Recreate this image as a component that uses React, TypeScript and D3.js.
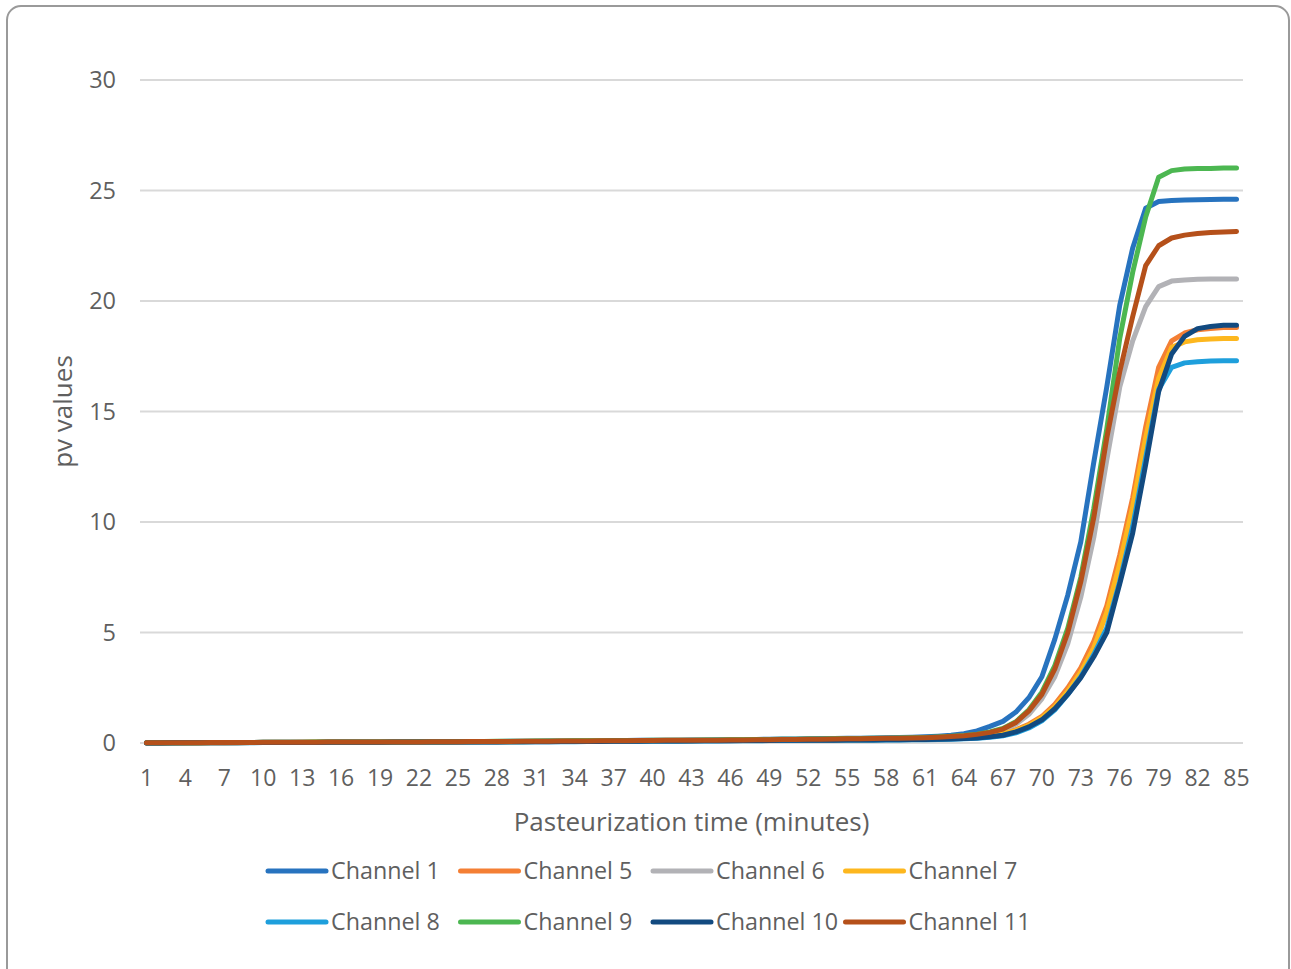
import * as d3 from "d3";
import { FC } from "react";

const WIDTH = 1291;
const HEIGHT = 969;
const MARGIN = { top: 80, right: 48, bottom: 226, left: 140 };

const minutes = d3.range(1, 86);
const yTicks = [0, 5, 10, 15, 20, 25, 30];
const xTickLabels = d3.range(1, 86, 3);

const ch1 = [
  0.01, 0.01, 0.01, 0.01, 0.02, 0.02, 0.02, 0.02, 0.02, 0.03,
  0.03, 0.03, 0.03, 0.03, 0.04, 0.04, 0.04, 0.04, 0.05, 0.05,
  0.05, 0.05, 0.06, 0.06, 0.06, 0.07, 0.07, 0.07, 0.08, 0.08,
  0.08, 0.09, 0.09, 0.1, 0.1, 0.1, 0.11, 0.11, 0.12, 0.12,
  0.13, 0.13, 0.14, 0.14, 0.15, 0.15, 0.16, 0.16, 0.17, 0.18,
  0.18, 0.19, 0.2, 0.2, 0.21, 0.22, 0.23, 0.24, 0.25, 0.26,
  0.28, 0.31, 0.35, 0.42, 0.55, 0.75, 0.98, 1.4, 2.05, 3.0,
  4.7, 6.7, 9.1, 12.7, 16.1, 19.8, 22.4, 24.2, 24.5, 24.55,
  24.57, 24.58, 24.59, 24.6, 24.6,
];
const ch5 = [
  0.0, 0.0, 0.01, 0.01, 0.01, 0.01, 0.01, 0.02, 0.02, 0.02,
  0.02, 0.02, 0.03, 0.03, 0.03, 0.03, 0.03, 0.04, 0.04, 0.04,
  0.04, 0.05, 0.05, 0.05, 0.05, 0.06, 0.06, 0.06, 0.06, 0.07,
  0.07, 0.07, 0.08, 0.08, 0.08, 0.08, 0.09, 0.09, 0.09, 0.1,
  0.1, 0.1, 0.11, 0.11, 0.11, 0.12, 0.12, 0.12, 0.13, 0.13,
  0.13, 0.14, 0.14, 0.15, 0.15, 0.15, 0.16, 0.16, 0.17, 0.17,
  0.18, 0.19, 0.21, 0.24, 0.28, 0.34, 0.44, 0.6, 0.85, 1.2,
  1.75, 2.5, 3.4, 4.6, 6.2, 8.5, 11.1, 14.3, 17.0, 18.2,
  18.55, 18.7, 18.75, 18.8, 18.8,
];
const ch6 = [
  0.01, 0.01, 0.01, 0.01, 0.01, 0.02, 0.02, 0.02, 0.02, 0.02,
  0.03, 0.03, 0.03, 0.03, 0.03, 0.04, 0.04, 0.04, 0.04, 0.05,
  0.05, 0.05, 0.05, 0.06, 0.06, 0.06, 0.07, 0.07, 0.07, 0.07,
  0.08, 0.08, 0.08, 0.09, 0.09, 0.09, 0.1, 0.1, 0.1, 0.11,
  0.11, 0.12, 0.12, 0.12, 0.13, 0.13, 0.14, 0.14, 0.15, 0.15,
  0.16, 0.16, 0.17, 0.17, 0.18, 0.19, 0.19, 0.2, 0.21, 0.22,
  0.23, 0.25, 0.28, 0.32, 0.37, 0.45, 0.58, 0.85, 1.3, 2.0,
  3.0, 4.5, 6.6, 9.3, 12.8, 16.1, 18.2, 19.75, 20.65, 20.9,
  20.95, 20.98, 21.0, 21.0, 21.0,
];
const ch7 = [
  0.0, 0.0, 0.01, 0.01, 0.01, 0.01, 0.01, 0.01, 0.02, 0.02,
  0.02, 0.02, 0.02, 0.03, 0.03, 0.03, 0.03, 0.03, 0.04, 0.04,
  0.04, 0.04, 0.05, 0.05, 0.05, 0.05, 0.06, 0.06, 0.06, 0.06,
  0.07, 0.07, 0.07, 0.07, 0.08, 0.08, 0.08, 0.09, 0.09, 0.09,
  0.1, 0.1, 0.1, 0.11, 0.11, 0.11, 0.12, 0.12, 0.12, 0.13,
  0.13, 0.13, 0.14, 0.14, 0.15, 0.15, 0.15, 0.16, 0.16, 0.17,
  0.17, 0.18, 0.2, 0.23, 0.27, 0.32, 0.42, 0.57, 0.8, 1.15,
  1.65, 2.35, 3.2, 4.3, 5.9, 8.1, 10.7, 13.8, 16.5, 17.9,
  18.15, 18.25, 18.28, 18.3, 18.3,
];
const ch8 = [
  0.0, 0.0, 0.0, 0.01, 0.01, 0.01, 0.01, 0.01, 0.01, 0.02,
  0.02, 0.02, 0.02, 0.02, 0.02, 0.03, 0.03, 0.03, 0.03, 0.03,
  0.04, 0.04, 0.04, 0.04, 0.04, 0.05, 0.05, 0.05, 0.05, 0.05,
  0.06, 0.06, 0.06, 0.06, 0.07, 0.07, 0.07, 0.07, 0.08, 0.08,
  0.08, 0.08, 0.09, 0.09, 0.09, 0.1, 0.1, 0.1, 0.11, 0.11,
  0.11, 0.12, 0.12, 0.12, 0.13, 0.13, 0.13, 0.14, 0.14, 0.15,
  0.15, 0.16, 0.17, 0.19, 0.22, 0.26, 0.33, 0.46, 0.68, 1.0,
  1.5, 2.2, 3.0, 4.0, 5.2, 7.3, 9.8, 12.9, 16.0, 17.0,
  17.2, 17.25, 17.28, 17.3, 17.3,
];
const ch9 = [
  0.01, 0.01, 0.01, 0.01, 0.01, 0.02, 0.02, 0.02, 0.02, 0.03,
  0.03, 0.03, 0.03, 0.04, 0.04, 0.04, 0.04, 0.05, 0.05, 0.05,
  0.05, 0.06, 0.06, 0.06, 0.07, 0.07, 0.07, 0.08, 0.08, 0.08,
  0.09, 0.09, 0.09, 0.1, 0.1, 0.1, 0.11, 0.11, 0.11, 0.12,
  0.12, 0.13, 0.13, 0.14, 0.14, 0.15, 0.15, 0.16, 0.16, 0.17,
  0.17, 0.18, 0.18, 0.19, 0.2, 0.2, 0.21, 0.22, 0.23, 0.24,
  0.25, 0.27, 0.3, 0.34, 0.4, 0.5, 0.66, 0.96, 1.5, 2.3,
  3.5, 5.2, 7.5, 10.6, 14.2, 18.3, 21.3, 23.8, 25.6, 25.9,
  25.97, 26.0, 26.0, 26.02, 26.02,
];
const ch10 = [
  0.0, 0.0, 0.01, 0.01, 0.01, 0.01, 0.01, 0.01, 0.02, 0.02,
  0.02, 0.02, 0.02, 0.02, 0.03, 0.03, 0.03, 0.03, 0.03, 0.04,
  0.04, 0.04, 0.04, 0.05, 0.05, 0.05, 0.05, 0.05, 0.06, 0.06,
  0.06, 0.06, 0.07, 0.07, 0.07, 0.07, 0.08, 0.08, 0.08, 0.09,
  0.09, 0.09, 0.09, 0.1, 0.1, 0.1, 0.11, 0.11, 0.11, 0.12,
  0.12, 0.12, 0.13, 0.13, 0.14, 0.14, 0.14, 0.15, 0.15, 0.16,
  0.16, 0.17, 0.18, 0.2, 0.23, 0.28, 0.35, 0.5, 0.73, 1.05,
  1.55, 2.2, 2.95, 3.9, 5.0, 7.2, 9.5, 12.6, 15.9, 17.6,
  18.4, 18.75, 18.85, 18.9, 18.9,
];
const ch11 = [
  0.01, 0.01, 0.01, 0.01, 0.01, 0.02, 0.02, 0.02, 0.02, 0.03,
  0.03, 0.03, 0.03, 0.03, 0.04, 0.04, 0.04, 0.04, 0.05, 0.05,
  0.05, 0.05, 0.06, 0.06, 0.06, 0.07, 0.07, 0.07, 0.07, 0.08,
  0.08, 0.08, 0.09, 0.09, 0.09, 0.1, 0.1, 0.1, 0.11, 0.11,
  0.12, 0.12, 0.12, 0.13, 0.13, 0.14, 0.14, 0.15, 0.15, 0.16,
  0.16, 0.17, 0.17, 0.18, 0.19, 0.19, 0.2, 0.21, 0.22, 0.23,
  0.24, 0.26, 0.29, 0.33, 0.39, 0.48, 0.63, 0.93, 1.45, 2.2,
  3.35, 5.0, 7.3, 10.2, 13.8, 16.8, 19.3, 21.6, 22.5, 22.85,
  22.98, 23.05, 23.1, 23.12, 23.15,
];

const seriesNames = [
  "Channel 1",
  "Channel 5",
  "Channel 6",
  "Channel 7",
  "Channel 8",
  "Channel 9",
  "Channel 10",
  "Channel 11",
];
const seriesValues = [ch1, ch5, ch6, ch7, ch8, ch9, ch10, ch11];
const seriesColors = [
  "#2773bf",
  "#f47f34",
  "#b2b2b6",
  "#fdb71e",
  "#1e9fdc",
  "#4cb751",
  "#124a80",
  "#b5501a",
];

const FONT = "'Open Sans', 'Noto Sans', sans-serif";
const TEXT = "#5f5f5f";

const App: FC = () => {
  const x = d3
    .scaleBand<number>()
    .domain(minutes)
    .range([MARGIN.left, WIDTH - MARGIN.right])
    .padding(0);
  const y = d3
    .scaleLinear()
    .domain([0, 30])
    .range([HEIGHT - MARGIN.bottom, MARGIN.top]);
  const cx = (m: number) => (x(m) || 0) + x.bandwidth() / 2;

  const line = d3
    .line<number>()
    .x((_, i) => cx(minutes[i]))
    .y((d) => y(d));

  return (
    <svg
      width={WIDTH}
      height={HEIGHT}
      style={{ position: "absolute", left: 0, top: 0, background: "#fff" }}
      fontFamily={FONT}
    >
      <rect
        x={7}
        y={6}
        width={WIDTH - 9}
        height={HEIGHT + 10}
        rx={14}
        fill="#fff"
        stroke="#9a9a9a"
        strokeWidth={2}
      />

      {yTicks.map((t) => (
        <g key={t}>
          <line
            x1={MARGIN.left}
            x2={WIDTH - MARGIN.right}
            y1={y(t)}
            y2={y(t)}
            stroke="#d9d9d9"
            strokeWidth={2}
          />
          <text
            x={116}
            y={y(t)}
            dy="0.35em"
            textAnchor="end"
            fontSize={23.5}
            fill={TEXT}
          >
            {t}
          </text>
        </g>
      ))}

      {xTickLabels.map((m) => (
        <text
          key={m}
          x={cx(m)}
          y={786}
          textAnchor="middle"
          fontSize={23}
          fill={TEXT}
        >
          {m}
        </text>
      ))}

      <text
        x={(MARGIN.left + WIDTH - MARGIN.right) / 2}
        y={831}
        textAnchor="middle"
        fontSize={26}
        fill={TEXT}
      >
        Pasteurization time (minutes)
      </text>
      <text
        transform={`translate(72, ${(y(0) + y(30)) / 2}) rotate(-90)`}
        textAnchor="middle"
        fontSize={26}
        fill={TEXT}
      >
        pv values
      </text>

      {seriesValues.map((vals, i) => (
        <path
          key={seriesNames[i]}
          d={line(vals) || ""}
          fill="none"
          stroke={seriesColors[i]}
          strokeWidth={5}
          strokeLinejoin="round"
          strokeLinecap="round"
        />
      ))}

      {seriesNames.map((name, i) => {
        const col = i % 4;
        const row = Math.floor(i / 4);
        const lx = 268 + col * 192.5;
        const ly = 871 + row * 51;
        return (
          <g key={name}>
            <line
              x1={lx}
              x2={lx + 58}
              y1={ly}
              y2={ly}
              stroke={seriesColors[i]}
              strokeWidth={5}
              strokeLinecap="round"
            />
            <text x={lx + 63} y={ly} dy="0.35em" fontSize={23.3} fill={TEXT}>
              {name}
            </text>
          </g>
        );
      })}
    </svg>
  );
};

export default App;
